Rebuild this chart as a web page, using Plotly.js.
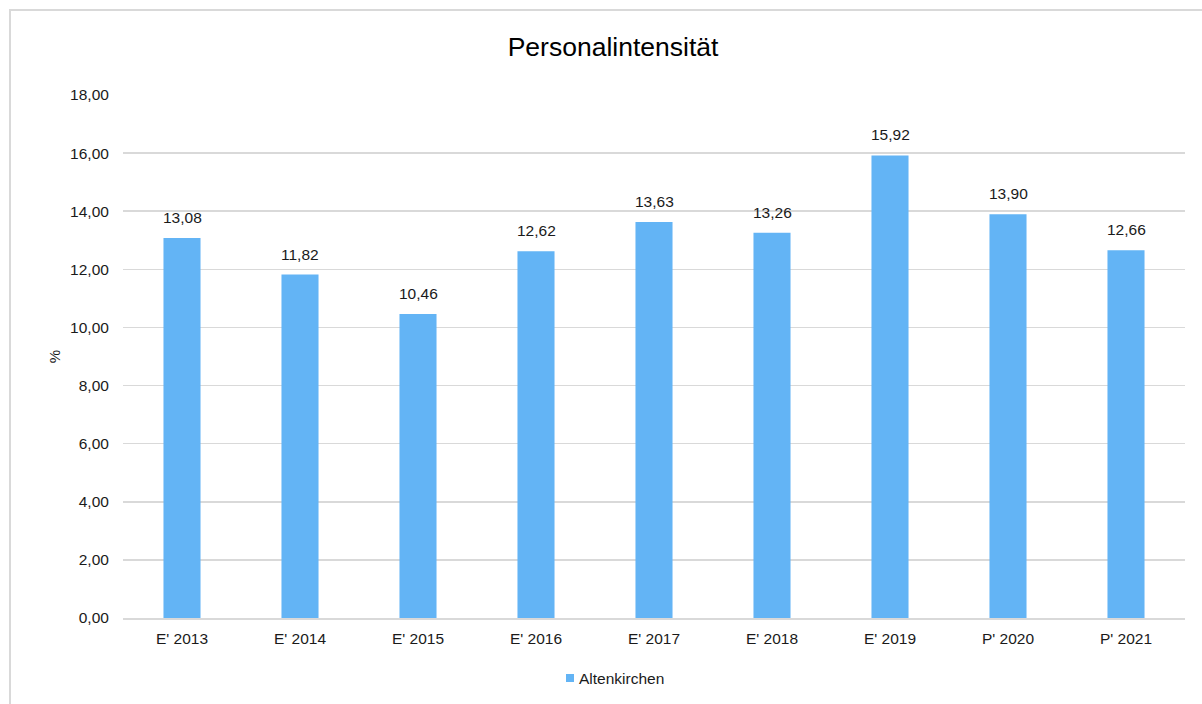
<!DOCTYPE html>
<html>
<head>
<meta charset="utf-8">
<script src="https://cdn.plot.ly/plotly-3.0.1.min.js"></script>
<style>
  html, body { margin: 0; padding: 0; background: #fff; }
  #frame { position: absolute; left: 9px; top: 9px; width: 1200px; height: 700px; border: 2px solid #d9d9d9; box-sizing: border-box; }
  #chart { position: absolute; left: 0; top: 0; width: 1202px; height: 704px; }
</style>
</head>
<body>
<div id="frame"></div>
<div id="chart"></div>
<script>
const categories = ["E' 2013", "E' 2014", "E' 2015", "E' 2016", "E' 2017", "E' 2018", "E' 2019", "P' 2020", "P' 2021"];
const values = [13.08, 11.82, 10.46, 12.62, 13.63, 13.26, 15.92, 13.90, 12.66];
const seriesName = "Altenkirchen";
const yTicks = [0, 2, 4, 6, 8, 10, 12, 14, 16, 18];

const font = "Liberation Sans, Arial, sans-serif";
const barColor = "#63b4f5";
const W = 1202, H = 704;
const M = { l: 123, r: 17, t: 95, b: 86 };
const pw = W - M.l - M.r, ph = H - M.t - M.b;
const px2x = p => (p - M.l) / pw;
const py2y = p => (H - M.b - p) / ph;

const trace = {
  type: "bar",
  x: categories,
  y: values,
  name: seriesName,
  marker: { color: barColor },
  textposition: "none",
  hoverinfo: "skip",
  showlegend: false
};

const annotations = categories.map((c, i) => ({
  x: c, y: values[i], xref: "x", yref: "y",
  text: values[i].toFixed(2).replace(".", ","),
  showarrow: false, yanchor: "bottom", yshift: 10,
  font: { family: font, size: 15.5, color: "#1a1a1a" }
}));

// legend entry (swatch + label)
annotations.push({
  x: px2x(577), y: py2y(678), xref: "paper", yref: "paper",
  xanchor: "left", yanchor: "middle", showarrow: false,
  text: seriesName,
  font: { family: font, size: 15.5, color: "#1a1a1a" }
});

const shapes = [{
  type: "rect", xref: "paper", yref: "paper",
  x0: px2x(566), x1: px2x(574), y0: py2y(682), y1: py2y(674),
  fillcolor: barColor, line: { width: 0 }
}];

const layout = {
  width: W, height: H,
  paper_bgcolor: "rgba(0,0,0,0)",
  plot_bgcolor: "rgba(0,0,0,0)",
  margin: M,
  separators: ",.",
  font: { family: font, size: 15.5, color: "#1a1a1a" },
  title: {
    text: "Personalintensität",
    font: { family: font, size: 26.5, color: "#000" },
    x: 0.51, xref: "container", xanchor: "center",
    y: 1 - 47 / H, yref: "container", yanchor: "middle"
  },
  bargap: 0.686,
  xaxis: {
    type: "category",
    showgrid: false,
    showline: true, linecolor: "#d9d9d9", linewidth: 2,
    ticks: "outside", ticklen: 5, tickcolor: "rgba(0,0,0,0)",
    tickfont: { family: font, size: 15.5, color: "#1a1a1a" },
    zeroline: false, fixedrange: true
  },
  yaxis: {
    range: [0, 18],
    tickvals: yTicks,
    tickformat: ".2f",
    showgrid: true, gridcolor: "#d9d9d9", gridwidth: 1.5,
    zeroline: false, showline: false,
    ticks: "outside", ticklen: 10, tickcolor: "rgba(0,0,0,0)",
    tickfont: { family: font, size: 15.5, color: "#1a1a1a" },
    title: { text: "%", font: { family: font, size: 15, color: "#1a1a1a" }, standoff: 5 },
    fixedrange: true
  },
  showlegend: false,
  annotations: annotations,
  shapes: shapes
};

Plotly.newPlot("chart", [trace], layout, { displayModeBar: false, staticPlot: true });
</script>
</body>
</html>
